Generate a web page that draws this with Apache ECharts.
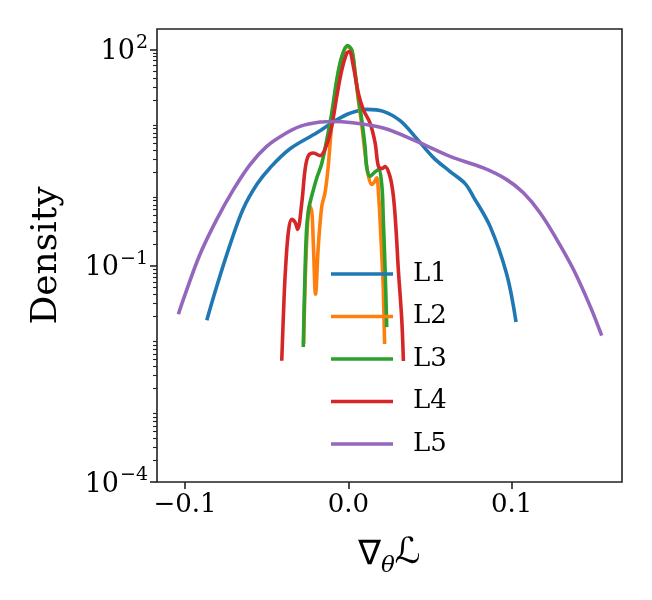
<!DOCTYPE html>
<html>
<head>
<meta charset="utf-8">
<script src="https://cdn.jsdelivr.net/npm/echarts@6/dist/echarts.min.js"></script>
<style>html,body{margin:0;padding:0;background:#fff}#c{width:652px;height:600px}</style>
</head>
<body>
<div id="c"></div>
<script>
const seriesNames = ['L1', 'L2', 'L3', 'L4', 'L5'];
const colors = ['#1f77b4', '#ff7f0e', '#2ca02c', '#d62728', '#9467bd'];
const xTicks = [-0.1, 0.0, 0.1];
const yTicks = [1e-4, 1e-1, 1e2];

const xL1 = [-0.0867,-0.0806,-0.0724,-0.0645,-0.0559,-0.0479,-0.0357,-0.0193,-0.0071,0.0010,0.0113,0.0214,0.0317,0.0419,0.0521,0.0623,0.0715,0.0765,0.0868,0.0970,0.1027];
const yL1 = [0.0176,0.052,0.198,0.61,1.36,2.3,4.2,7.01,10.6,13.1,14.8,13.9,10.3,5.8,3.17,2.03,1.38,0.914,0.352,0.0762,0.0166];

const xL2 = [-0.0274,-0.0265,-0.0253,-0.0238,-0.0224,-0.0214,-0.0201,-0.0184,-0.0163,-0.0143,-0.0124,-0.0102,-0.0071,-0.0040,-0.0006,0.0021,0.0041,0.0061,0.0082,0.0102,0.0121,0.0143,0.0157,0.0174,0.0185,0.0194,0.0206,0.0214,0.0222];
const yL2 = [0.0082,0.0555,0.273,0.687,0.567,0.188,0.0404,0.188,0.665,1.03,2.3,9.06,35.6,79,110,97,48.9,20,9.06,3.68,1.85,1.34,1.43,1.66,0.975,0.44,0.123,0.0473,0.0082];

const xL3 = [-0.0276,-0.0268,-0.0256,-0.0241,-0.0222,-0.0193,-0.0163,-0.0132,-0.0102,-0.0071,-0.0040,-0.0006,0.0021,0.0041,0.0061,0.0082,0.0102,0.0113,0.0133,0.0157,0.0184,0.0205,0.0214,0.0225,0.0235];
const yL3 = [0.00746,0.0473,0.32,0.644,0.975,1.67,2.62,5.62,13.1,38,79.8,114,98.7,47,22.3,10.6,4.54,2.3,1.75,1.95,2.16,1.3,0.44,0.0895,0.0141];

const xL4 = [-0.0408,-0.0394,-0.0385,-0.0367,-0.0347,-0.0326,-0.0311,-0.0285,-0.0265,-0.0245,-0.0214,-0.0173,-0.0132,-0.0102,-0.0071,-0.0040,-0.0010,0.0006,0.0031,0.0061,0.0092,0.0133,0.0164,0.0184,0.0205,0.0225,0.0255,0.0276,0.0292,0.0306,0.0327,0.0337];
const yL4 = [0.00482,0.0344,0.0895,0.3,0.44,0.4,0.32,0.755,2.16,3.37,3.68,3.37,4.79,8.59,22.3,52.2,89,94,58,24.9,14.6,9.57,5.06,2.4,2.23,2.38,1.73,0.914,0.32,0.0895,0.0182,0.00477];

const xL5 = [-0.1041,-0.1010,-0.0913,-0.0806,-0.0704,-0.0602,-0.0500,-0.0398,-0.0296,-0.0173,-0.0092,0.0010,0.0214,0.0419,0.0623,0.0827,0.0970,0.1072,0.1174,0.1276,0.1378,0.1480,0.1552];
const yL5 = [0.0213,0.0344,0.137,0.44,1.14,2.54,4.54,6.59,8.59,9.86,10.07,9.75,8.15,5.32,3.3,2.28,1.57,1.03,0.545,0.233,0.0895,0.0278,0.0107];

const xs = [xL1, xL2, xL3, xL4, xL5];
const ys = [yL1, yL2, yL3, yL4, yL5];

const FONT = 'DejaVu Serif';
const chart = echarts.init(document.getElementById('c'), null, {renderer: 'canvas'});

function supLabel(v) {
  const e = Math.round(Math.log10(v));
  const es = e < 0 ? '\u2212' + (-e) : String(e);
  return '{b|10}{e|' + es + '}';
}

const option = {
  animation: false,
  backgroundColor: '#fff',
  grid: {left: 157, right: 30, top: 29, bottom: 118, show: true, borderColor: '#222', borderWidth: 1.6, backgroundColor: 'transparent'},
  legend: {
    orient: 'vertical', left: 326, top: 254, icon: 'rect', itemWidth: 62, itemHeight: 3.6, itemGap: 12.5,
    textStyle: {fontFamily: FONT, fontSize: 26, color: '#000', lineHeight: 30, padding: [0, 0, 0, 15]},
    data: seriesNames
  },
  xAxis: {
    type: 'value', min: -0.1172, max: 0.1676,
    splitLine: {show: false}, axisLine: {show: false, onZero: false},
    axisTick: {show: true, length: 7, lineStyle: {color: '#222', width: 1.6}, customValues: xTicks},
    axisLabel: {customValues: xTicks, fontFamily: FONT, fontSize: 26, color: '#000', margin: 10,
      formatter: v => v.toFixed(1).replace('-', '\u2212')},
    name: '{a|\u2207}{s|\u03b8}{c|\u2112}', nameLocation: 'middle', nameGap: 54,
    nameTextStyle: {color: '#000', rich: {
      a: {fontFamily: 'DejaVu Sans', fontSize: 34, color: '#000', verticalAlign: 'bottom'},
      s: {fontFamily: 'DejaVu Serif', fontStyle: 'italic', fontSize: 23, color: '#000', verticalAlign: 'bottom', padding: [0, 0, -6, 0]},
      c: {fontFamily: 'DejaVu Sans', fontSize: 36, color: '#000', verticalAlign: 'bottom'}
    }}
  },
  yAxis: {
    type: 'log', logBase: 10, min: 1e-4, max: 193,
    splitLine: {show: false}, axisLine: {show: false, onZero: false},
    axisTick: {show: true, length: 7, lineStyle: {color: '#222', width: 1.6}, customValues: yTicks},
    minorTick: {show: true, splitNumber: 9, length: 4, lineStyle: {color: '#222', width: 1.1}},
    minorSplitLine: {show: false},
    axisLabel: {customValues: yTicks, margin: 9, formatter: supLabel,
      rich: {
        b: {fontFamily: FONT, fontSize: 27, color: '#000', verticalAlign: 'bottom'},
        e: {fontFamily: FONT, fontSize: 19, color: '#000', verticalAlign: 'bottom', padding: [0, 0, 13, 1]}
      }},
    name: 'Density', nameLocation: 'middle', nameGap: 92,
    nameTextStyle: {fontFamily: FONT, fontSize: 36, color: '#000'}
  },
  series: seriesNames.map((n, i) => ({
    name: n, type: 'line', symbol: 'none', smooth: 0.35, clip: true,
    lineStyle: {color: colors[i], width: 3.6}, itemStyle: {color: colors[i]},
    data: xs[i].map((x, j) => [x, ys[i][j]])
  }))
};
chart.setOption(option);
</script>
</body>
</html>
